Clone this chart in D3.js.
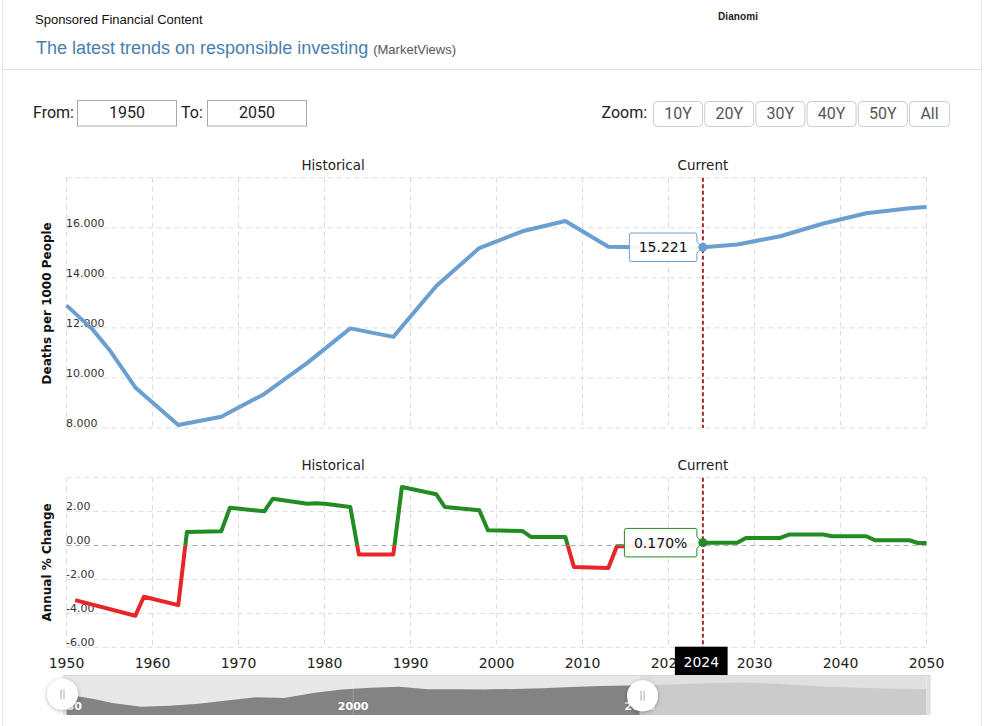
<!DOCTYPE html>
<html><head><meta charset="utf-8">
<script src="https://cdn.jsdelivr.net/npm/d3@7"></script>
<style>
html,body{margin:0;padding:0;background:#fff;}
svg{display:block;}
</style></head>
<body><svg id="c" width="987" height="726"></svg>
<script>
// ---------- DATA ----------
const years      = [1950,1953,1955,1958,1963,1968,1973,1978,1983,1988,1993,1998,2003,2008,2013,2018,2023,2024,2028,2033,2038,2043,2048,2050];
const deathRate  = [12.90,11.95,11.12,9.62,8.12,8.45,9.36,10.60,11.98,11.64,13.67,15.19,15.86,16.27,15.24,15.21,15.19,15.221,15.33,15.66,16.17,16.58,16.78,16.83];
const futureYears = [2053,2058,2063,2068,2073,2078,2083,2088,2093,2098,2100];
const futureRate  = [17.0,17.4,17.8,18.0,17.6,16.9,16.3,15.9,15.6,15.4,15.3];
const changeYears = [1951,1958,1959,1963,1964,1968,1969,1973,1974,1978,1979,1980,1983,1984,1988,1989,1993,1994,1998,1999,2003,2004,2008,2009,2013,2014,2018,2019,2023,2024,2028,2029,2033,2034,2038,2039,2043,2044,2048,2049,2050];
const changePct   = [-3.22,-4.14,-3.02,-3.51,0.80,0.84,2.23,2.02,2.76,2.47,2.50,2.47,2.27,-0.53,-0.53,3.45,3.02,2.27,2.08,0.90,0.86,0.51,0.51,-1.26,-1.32,-0.04,-0.03,0.02,0.02,0.17,0.17,0.45,0.45,0.65,0.65,0.55,0.55,0.31,0.31,0.15,0.15];
const topTicks    = [8,10,12,14,16];
const topGrid     = [8,10,12,14,16,18];
const bottomTicks = [-6,-4,-2,0,2];
const bottomGrid  = [-6,-4,-2,0,2,4];
const xTicks      = [1950,1960,1970,1980,1990,2000,2010,2020,2030,2040,2050];
const navTicks    = [1950,2000,2050,2100];
const zoomButtons = ["10Y","20Y","30Y","40Y","50Y","All"];
const currentYear = 2024, currentRate = 15.221, currentChange = 0.170;
const fromYear = 1950, toYear = 2050, historicalLabelYear = 1981;

// ---------- SETUP ----------
const svg = d3.select("#c");
const FV = "'DejaVu Sans', Verdana, sans-serif";
const FA = "'Liberation Sans', Arial, sans-serif";
const FR = "Roboto, 'Segoe UI', sans-serif";
const loc = d3.formatLocale({decimal:".",thousands:",",grouping:[3],currency:["$",""],minus:"-"});

const x = d3.scaleLinear().domain([fromYear,toYear]).range([66.5,926.5]);
const yTop = d3.scaleLinear().domain([8,18]).range([428,177.7]);
const yBot = d3.scaleLinear().domain([-6,4]).range([647.3,477.7]);
const navX = d3.scaleLinear().domain([1950,2100]).range([66.5,926.5]);
const navY = d3.scaleLinear().domain([4.7,21.1]).range([715,675]);

// ---------- FRAME / HEADER ----------
svg.append("line").attr("x1",2.5).attr("x2",2.5).attr("y1",0).attr("y2",726).attr("stroke","#e2e2e2");
svg.append("line").attr("x1",981.5).attr("x2",981.5).attr("y1",0).attr("y2",726).attr("stroke","#e2e2e2");
svg.append("line").attr("x1",2.5).attr("x2",981.5).attr("y1",69.5).attr("y2",69.5).attr("stroke","#e2e2e2");

svg.append("text").attr("x",35).attr("y",24).style("font","13px "+FA).attr("fill","#111").text("Sponsored Financial Content");
const tt = svg.append("text").attr("x",36).attr("y",54).style("font-family",FA);
tt.append("tspan").style("font-size","18px").attr("fill","#4a7eab").text("The latest trends on responsible investing");
tt.append("tspan").attr("dx",5).style("font-size","13px").attr("fill","#555").text("(MarketViews)");
svg.append("text").attr("x",718).attr("y",20).style("font","bold 10px "+FA).attr("fill","#222").attr("textLength",40).text("Dianomi");

// ---------- CONTROLS ----------
const ctl = svg.append("g").style("font","16px "+FR).attr("fill","#222");
ctl.append("text").attr("x",33).attr("y",118).text("From:");
ctl.append("rect").attr("x",77.5).attr("y",100.5).attr("width",99).attr("height",25.5).attr("fill","#fff").attr("stroke","#aaa");
ctl.append("text").attr("x",127).attr("y",118).attr("text-anchor","middle").text(fromYear);
ctl.append("text").attr("x",181).attr("y",118).text("To:");
ctl.append("rect").attr("x",207.5).attr("y",100.5).attr("width",99).attr("height",25.5).attr("fill","#fff").attr("stroke","#aaa");
ctl.append("text").attr("x",257).attr("y",118).attr("text-anchor","middle").text(toYear);
ctl.append("text").attr("x",601.5).attr("y",118).text("Zoom:");
const bw = zoomButtons.map(b => b==="All" ? 40 : 49);
zoomButtons.forEach((b,i)=>{
  const bx = 653.5 + i*51.2;
  ctl.append("rect").attr("x",bx).attr("y",101.5).attr("width",bw[i]).attr("height",25).attr("rx",4)
     .attr("fill","#fff").attr("stroke","#ccc");
  ctl.append("text").attr("x",bx+bw[i]/2).attr("y",118.5).attr("text-anchor","middle").attr("fill","#555").text(b);
});

// ---------- GRIDS ----------
function grid(yScale, gridVals, y0, y1, zero) {
  const g = svg.append("g");
  g.selectAll("line.h").data(gridVals).join("line")
    .attr("x1",x(fromYear)).attr("x2",x(toYear))
    .attr("y1",d=>yScale(d)).attr("y2",d=>yScale(d))
    .attr("stroke",d=> (zero && d===0) ? "#a8a8a8" : "#dcdcdc").attr("stroke-dasharray","5,4");
  g.selectAll("line.v").data(xTicks).join("line")
    .attr("x1",d=>x(d)).attr("x2",d=>x(d)).attr("y1",y0).attr("y2",y1)
    .attr("stroke","#dcdcdc").attr("stroke-dasharray","5,4");
}
grid(yTop, topGrid, yTop(18), yTop(8), false);
grid(yBot, bottomGrid, yBot(4), yBot(-6), true);

// tick labels
const fTop = loc.format(".3f"), fBot = loc.format(".2f");
svg.append("g").selectAll("text").data(topTicks).join("text")
  .attr("x",x(fromYear)-0.5).attr("y",d=>yTop(d)-1.2).style("font","11px "+FV).attr("fill","#333").text(fTop);
svg.append("g").selectAll("text").data(bottomTicks).join("text")
  .attr("x",x(fromYear)-0.5).attr("y",d=>yBot(d)-1.4).style("font","11px "+FV).attr("fill","#333").text(fBot);

// axis titles
svg.append("text").attr("transform",`translate(51,${(yTop(8)+yTop(18))/2+0.5}) rotate(-90)`).attr("text-anchor","middle")
  .style("font","bold 12px "+FV).attr("fill","#111").text("Deaths per 1000 People");
svg.append("text").attr("transform",`translate(51,${(yBot(-6)+yBot(4))/2}) rotate(-90)`).attr("text-anchor","middle")
  .style("font","bold 12px "+FV).attr("fill","#111").text("Annual % Change");

// section labels
[[170,"Historical",historicalLabelYear],[170,"Current",currentYear],[470,"Historical",historicalLabelYear],[470,"Current",currentYear]]
 .forEach(([yy,t,yr])=>{
  svg.append("text").attr("x",x(yr)).attr("y",yy).attr("text-anchor","middle").style("font","13.5px "+FV).attr("fill","#222").text(t);
 });

// current line
[[yTop(18),yTop(8)],[yBot(4),yBot(-6)]].forEach(([a,b])=>{
  svg.append("line").attr("x1",x(currentYear)).attr("x2",x(currentYear)).attr("y1",a).attr("y2",b)
    .attr("stroke","#a02a2a").attr("stroke-width",2).attr("stroke-dasharray","4,2.5");
});

// ---------- TOP LINE ----------
const topData = years.map((y,i)=>[y,deathRate[i]]);
svg.append("path").datum(topData)
  .attr("d",d3.line().x(d=>x(d[0])).y(d=>yTop(d[1])))
  .attr("fill","none").attr("stroke","#6b9fd0").attr("stroke-width",4).attr("stroke-linejoin","round").attr("stroke-linecap","butt");

// ---------- BOTTOM LINE ----------
const botData = changeYears.map((y,i)=>[y,changePct[i]]);
const defs = svg.append("defs");
defs.append("clipPath").attr("id","above").append("rect")
  .attr("x",0).attr("y",0).attr("width",987).attr("height",yBot(0));
defs.append("clipPath").attr("id","below").append("rect")
  .attr("x",0).attr("y",yBot(0)).attr("width",987).attr("height",726-yBot(0));
const botLine = d3.line().x(d=>x(d[0])).y(d=>yBot(d[1]));
svg.append("path").datum(botData).attr("d",botLine).attr("clip-path","url(#above)")
  .attr("fill","none").attr("stroke","#228b22").attr("stroke-width",4).attr("stroke-linejoin","round");
svg.append("path").datum(botData).attr("d",botLine).attr("clip-path","url(#below)")
  .attr("fill","none").attr("stroke","#e8262a").attr("stroke-width",4).attr("stroke-linejoin","round");

// ---------- TOOLTIPS ----------
function callout(px, py, w, h, color, label) {
  const R = px - 6, L = R - w, T = py - h/2, B = py + h/2, r = 2;
  const p = `M${L+r},${T} L${R-r},${T} Q${R},${T} ${R},${T+r} L${R},${py-6} L${px-1},${py} L${R},${py+6} L${R},${B-r} Q${R},${B} ${R-r},${B} L${L+r},${B} Q${L},${B} ${L},${B-r} L${L},${T+r} Q${L},${T} ${L+r},${T} Z`;
  svg.append("path").attr("d",p).attr("fill","rgba(255,255,255,0.92)").attr("stroke",color).attr("stroke-width",1);
  svg.append("text").attr("x",(L+R)/2).attr("y",py+5).attr("text-anchor","middle").style("font","14px "+FV).attr("fill","#111").text(label);
  svg.append("circle").attr("cx",px).attr("cy",py).attr("r",4.5).attr("fill",color);
}
callout(x(currentYear), yTop(currentRate), 67.5, 28.5, "#6b9fd0", loc.format(".3f")(currentRate));
callout(x(currentYear), yBot(currentChange), 72.5, 28.5, "#228b22", loc.format(".3f")(currentChange)+"%");

// ---------- X AXIS LABELS ----------
svg.append("g").selectAll("text").data(xTicks).join("text")
  .attr("x",d=>x(d)).attr("y",668.3).attr("text-anchor","middle").style("font","14px "+FV).attr("fill","#222").text(d=>d);
svg.append("rect").attr("x",x(currentYear)-28).attr("y",646.7).attr("width",52.7).attr("height",29).attr("fill","#000");
svg.append("text").attr("x",x(currentYear)-1.6).attr("y",666.5).attr("text-anchor","middle").style("font","14px "+FV).attr("fill","#fff").text(currentYear);

// ---------- NAVIGATOR ----------
const nav = svg.append("g");
const navData = topData.concat(futureYears.map((y,i)=>[y,futureRate[i]]));
const splitX = navX(toYear);
nav.append("rect").attr("x",63).attr("y",675).attr("width",splitX-63).attr("height",40).attr("fill","#e8e8e8");
nav.append("rect").attr("x",splitX).attr("y",675).attr("width",930.7-splitX).attr("height",40).attr("fill","#e0e0e0");
defs.append("clipPath").attr("id","navL").append("rect").attr("x",0).attr("y",0).attr("width",splitX).attr("height",726);
defs.append("clipPath").attr("id","navR").append("rect").attr("x",splitX).attr("y",0).attr("width",987-splitX).attr("height",726);
const navArea = d3.area().x(d=>navX(d[0])).y0(715).y1(d=>navY(d[1]));
nav.append("path").datum(navData).attr("d",navArea).attr("clip-path","url(#navL)").attr("fill","#838383");
nav.append("path").datum(navData).attr("d",navArea).attr("clip-path","url(#navR)").attr("fill","#cbcbcb");
nav.selectAll("line.g").data(navTicks).join("line")
  .attr("x1",d=>navX(d)).attr("x2",d=>navX(d)).attr("y1",675).attr("y2",715).attr("stroke","rgba(255,255,255,0.25)");
nav.append("line").attr("x1",63).attr("x2",930.7).attr("y1",675.5).attr("y2",675.5).attr("stroke","#d8d8d8");
nav.selectAll("text").data(navTicks.slice(0,3)).join("text")
  .attr("x",d=>navX(d)).attr("y",709.5).attr("text-anchor","middle").style("font","bold 11px "+FV).attr("fill","#fff").text(d=>d);

// handles
const shadow = defs.append("filter").attr("id","sh").attr("x","-50%").attr("y","-50%").attr("width","200%").attr("height","200%");
shadow.append("feDropShadow").attr("dx",0).attr("dy",1).attr("stdDeviation",2).attr("flood-color","#000").attr("flood-opacity",0.3);
[[navX(fromYear)-4,694.3],[navX(toYear)+2.7,695.7]].forEach(([cx,cy])=>{
  nav.append("circle").attr("cx",cx).attr("cy",cy).attr("r",15.5).attr("fill","#fff").attr("filter","url(#sh)");
  [-1.5,1.5].forEach(o=>{
    nav.append("line").attr("x1",cx+o).attr("x2",cx+o).attr("y1",cy-5).attr("y2",cy+5).attr("stroke","#aaa").attr("stroke-width",1);
  });
});
</script>
</body></html>
